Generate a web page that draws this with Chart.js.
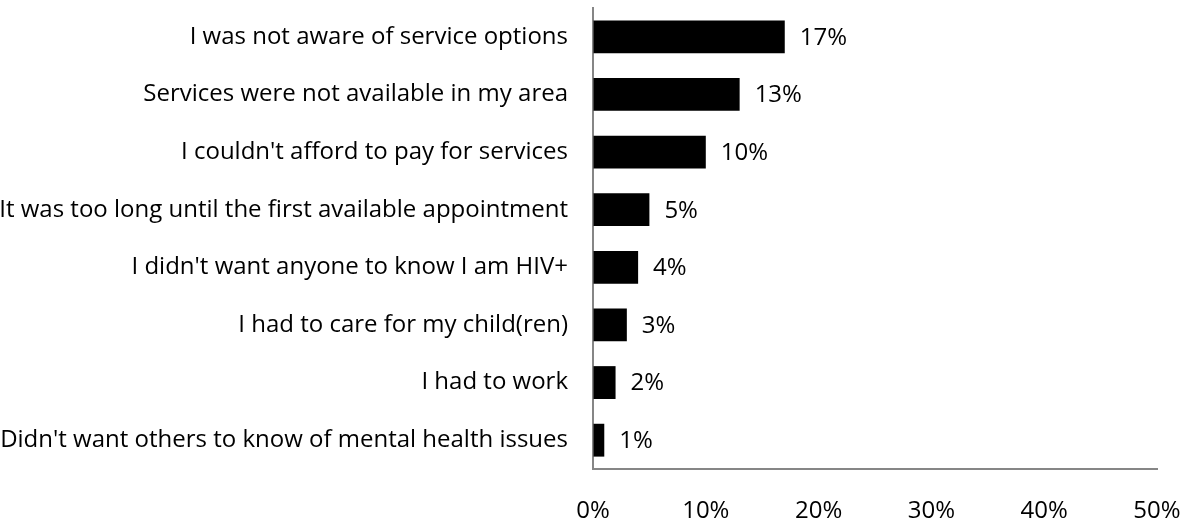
<!DOCTYPE html>
<html>
<head>
<meta charset="utf-8">
<script src="https://cdn.jsdelivr.net/npm/chart.js@4/dist/chart.umd.min.js"></script>
<style>
  html, body { margin: 0; padding: 0; background: #fff; }
  #wrap { width: 1188px; height: 524px; }
</style>
</head>
<body>
<div id="wrap"><canvas id="chart" width="1188" height="524"></canvas></div>
<script>
const categories = [
  "I was not aware of service options",
  "Services were not available in my area",
  "I couldn't afford to pay for services",
  "It was too long until the first available appointment",
  "I didn't want anyone to know I am HIV+",
  "I had to care for my child(ren)",
  "I had to work",
  "Didn't want others to know of mental health issues"
];
const percents = [17, 13, 10, 5, 4, 3, 2, 1];
const xTicks = [0, 10, 20, 30, 40, 50];

const fontFamily = "'Open Sans', sans-serif";
const fontSize = 24;
const axisGray = "#868686";

// value labels drawn to the right of each bar
const valueLabels = {
  id: "valueLabels",
  afterDatasetsDraw(chart) {
    const ctx = chart.ctx;
    const meta = chart.getDatasetMeta(0);
    ctx.save();
    ctx.font = fontSize + "px " + fontFamily;
    ctx.fillStyle = "#000";
    ctx.textAlign = "left";
    ctx.textBaseline = "middle";
    meta.data.forEach((bar, i) => {
      ctx.fillText(percents[i] + "%", bar.x + 15, bar.y + 1);
    });
    ctx.restore();
  }
};

new Chart(document.getElementById("chart"), {
  type: "bar",
  data: {
    labels: categories,
    datasets: [{
      data: percents,
      backgroundColor: "#000",
      borderWidth: 0,
      barPercentage: 0.75,
      categoryPercentage: 0.76
    }]
  },
  options: {
    indexAxis: "y",
    responsive: false,
    animation: false,
    layout: { padding: { top: 8, right: 31, bottom: 0, left: 0 } },
    plugins: {
      legend: { display: false },
      tooltip: { enabled: false }
    },
    scales: {
      x: {
        min: 0,
        max: 50,
        afterBuildTicks: (s) => { s.ticks = xTicks.map(v => ({ value: v })); },
        afterFit: (s) => { s.height = 55; s.paddingLeft = 0; s.paddingRight = 0; },
        grid: { display: true, drawOnChartArea: false, drawTicks: false },
        border: { display: true, color: axisGray, width: 2 },
        ticks: {
          padding: 28,
          color: "#000",
          font: { family: fontFamily, size: fontSize },
          maxRotation: 0,
          callback: (v) => v + "%"
        }
      },
      y: {
        afterFit: (s) => { s.width = 593; s.paddingTop = 0; s.paddingBottom = 0; },
        grid: { display: true, drawOnChartArea: false, drawTicks: false },
        border: { display: true, color: axisGray, width: 2 },
        ticks: {
          padding: 25,
          color: "#000",
          font: { family: fontFamily, size: fontSize }
        }
      }
    }
  },
  plugins: [valueLabels]
});
</script>
</body>
</html>
